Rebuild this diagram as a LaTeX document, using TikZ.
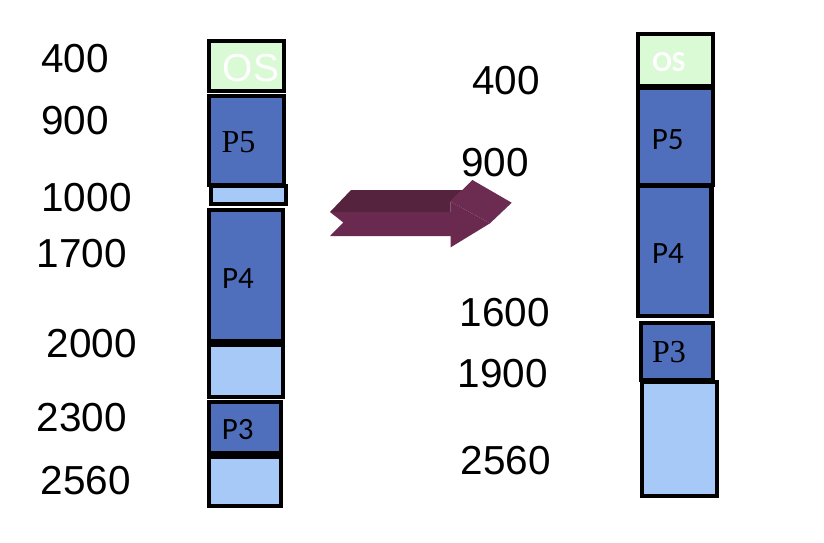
\documentclass[tikz,border=0pt]{standalone}
\usepackage{fontspec}
\setmainfont{Liberation Sans}
\newfontfamily\calfont{Carlito}
\newfontfamily\timesfont{Liberation Serif}
\definecolor{osg}{HTML}{D9FAD4}
\definecolor{pblue}{HTML}{4F6FBD}
\definecolor{holeblue}{HTML}{A6C9F8}
\definecolor{arrdark}{HTML}{56233F}
\definecolor{arrfront}{HTML}{6A2A4F}
\definecolor{arrhead}{HTML}{6C2B50}
\begin{document}
\begin{tikzpicture}[x=1pt,y=-1pt,
  blk/.style={draw=black,line width=4.2pt},
  osbox/.style={blk,fill=osg},
  pbox/.style={blk,fill=pblue},
  hbox/.style={blk,fill=holeblue},
  num/.style={font=\fontsize{40.5}{40.5}\selectfont,inner sep=0pt},
  plab/.style={font=\calfont\fontsize{31}{31}\selectfont,inner sep=0pt},
  tlab/.style={font=\timesfont\fontsize{32}{32}\selectfont,inner sep=0pt}]
\useasboundingbox (0,0) rectangle (824,542);
% left column
\path[osbox] (209.3,41.3) rectangle (284,91.3);
\path[pbox] (209.3,96) rectangle (284,185);
\path[hbox] (211,186.3) rectangle (286.3,204);
\path[pbox] (209.3,210.3) rectangle (283,341.3);
\path[hbox] (209.3,345) rectangle (283,397);
\path[pbox] (209.3,402) rectangle (281.3,453);
\path[hbox] (209.3,457) rectangle (281.3,506);
\node[inner sep=0pt,text=white,font=\fontsize{39}{39}\selectfont] (osL) at (251,68) {OS};
\node[tlab] (p5L) at (238.5,142.5) {P5};
\node[plab] (p4L) at (238,278.3) {P4};
\node[plab] (p3L) at (237.7,430) {P3};
% right column
\path[osbox] (638,34) rectangle (713,86);
\path[pbox] (638,88) rectangle (713,185);
\path[pbox] (638,186) rectangle (711.5,316.3);
\path[pbox] (641,322.7) rectangle (713,379.7);
\path[hbox] (642,382) rectangle (717.3,496.3);
\node[inner sep=0pt,text=white,font=\calfont\bfseries\fontsize{29}{29}\selectfont] (osR) at (669,62.5) {OS};
\node[plab] (p5R) at (667.7,140) {P5};
\node[plab] (p4R) at (668,253.3) {P4};
\node[tlab] (p3R) at (669,352.5) {P3};
% left numbers
\node[num] (l400) at (75,59) {400};
\node[num] (l900) at (75,121) {900};
\node[num] (l1000) at (86.5,197.5) {1000};
\node[num] (l1700) at (82,254) {1700};
\node[num] (l2000) at (92,344) {2000};
\node[num] (l2300) at (82,418) {2300};
\node[num] (l2560) at (86,481) {2560};
% right numbers
\node[num] (r400) at (506,81) {400};
\node[num] (r900) at (495,162.5) {900};
\node[num] (r1600) at (505,313) {1600};
\node[num] (r1900) at (503,374) {1900};
\node[num] (r2560) at (506,461) {2560};
% 3D arrow
\fill[arrdark] (330,212) -- (351,190) -- (462.5,190) -- (450.7,201.7) -- (450.7,212) -- cycle;
\fill[arrhead] (450.7,201.7) -- (472.4,180) -- (511.7,202.7) -- (490,223.3) -- cycle;
\fill[arrfront] (330,212) -- (450.7,212) -- (450.7,201.7) -- (490,223.3) -- (450.7,247.3) -- (450.7,236) -- (330,236) -- (343.3,222.5) -- cycle;
\end{tikzpicture}
\end{document}
